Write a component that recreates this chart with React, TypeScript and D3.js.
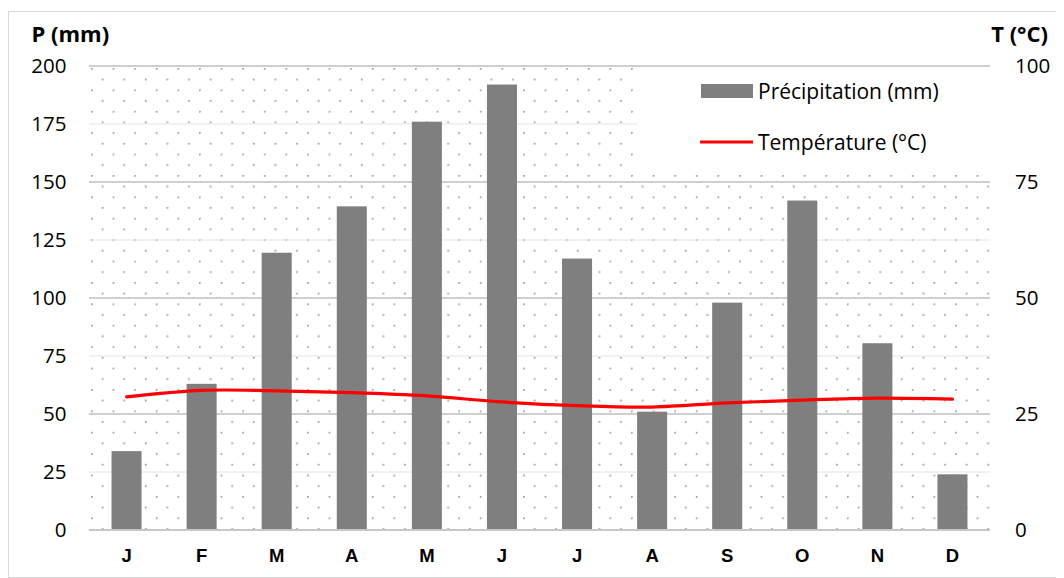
import * as d3 from 'd3';

const months = ['J', 'F', 'M', 'A', 'M', 'J', 'J', 'A', 'S', 'O', 'N', 'D'];
const precip = [34, 63, 119.5, 139.5, 176, 192, 117, 51, 98, 142, 80.5, 24];
const temp = [28.7, 30.1, 30, 29.6, 28.9, 27.6, 26.8, 26.5, 27.4, 28, 28.4, 28.2];
const pTicks = [0, 25, 50, 75, 100, 125, 150, 175, 200];
const tTicks = [0, 25, 50, 75, 100];

export default function App() {
    const W = 1056, H = 570;
    const margin = { top: 58, right: 74, bottom: 48, left: 81 };
    const x0 = margin.left, x1 = W - margin.right;
    const y0 = H - margin.bottom, y1 = margin.top;

    const x = d3.scaleBand<number>().domain(d3.range(12)).range([x0, x1]).paddingInner(0.6).paddingOuter(0.3);
    const yP = d3.scaleLinear().domain([0, 200]).range([y0, y1]);
    const yT = d3.scaleLinear().domain([0, 100]).range([y0, y1]);

    const line = d3.line<number>()
        .x((_, i) => (x(i) as number) + x.bandwidth() / 2)
        .y((d) => yT(d))
        .curve(d3.curveCatmullRom.alpha(0.5));

    const font = "'Open Sans', 'Noto Sans', sans-serif";

    return (
        <svg width={W} height={H} style={{ display: 'block' }}>
            <defs>
                <pattern id="dots" x={x0 + 2} y={y1 + 2} width={21.6} height={21.4} patternUnits="userSpaceOnUse">
                    <circle cx={0.8} cy={0.8} r={1.1} fill="#a6a6a6" />
                    <circle cx={11.6} cy={11.5} r={1.1} fill="#a6a6a6" />
                </pattern>
            </defs>
            <rect x={0.5} y={3.5} width={W} height={H - 4} fill="#fff" stroke="#d9d9d9" />
            <rect x={x0} y={y1} width={x1 - x0} height={y0 - y1} fill="url(#dots)" />

            {pTicks.map((t) => (
                <line key={t} x1={x0} x2={x1} y1={yP(t)} y2={yP(t)}
                    stroke={t % 50 === 0 ? '#bfbfbf' : '#e4e4e4'} strokeWidth={t % 50 === 0 ? 1.5 : 1} />
            ))}

            {/* legend box hides the pattern */}
            <rect x={629} y={y1 + 1.5} width={x1 - 629} height={104} fill="#fff" />

            {precip.map((v, i) => (
                <rect key={i} x={x(i)} y={yP(v)} width={x.bandwidth()} height={y0 - yP(v)} fill="#7f7f7f" />
            ))}

            <line x1={x0} x2={x1} y1={y0} y2={y0} stroke="#c8c8c8" strokeWidth={2} />

            <path d={line(temp) ?? ''} fill="none" stroke="#ff0000" strokeWidth={3.2} strokeLinecap="round" />

            {pTicks.map((t) => (
                <text key={t} x={58.5} y={yP(t)} dy="0.36em" textAnchor="end" fontFamily={font} fontSize={20.5} fill="#000">{t}</text>
            ))}
            {tTicks.map((t) => (
                <text key={t} x={1007} y={yT(t)} dy="0.36em" textAnchor="start" fontFamily={font} fontSize={20.5} fill="#000">{t}</text>
            ))}
            {months.map((m, i) => (
                <text key={i} x={(x(i) as number) + x.bandwidth() / 2} y={554} textAnchor="middle"
                    fontFamily="'Liberation Sans', Arial, sans-serif" fontWeight="bold" fontSize={18.5} fill="#000">{m}</text>
            ))}

            <text x={23.5} y={34} fontFamily={font} fontWeight="bold" fontSize={22} fill="#000">P (mm)</text>
            <text x={1040} y={34} textAnchor="end" fontFamily={font} fontWeight="bold" fontSize={22} fill="#000">T (°C)</text>

            <rect x={693} y={76} width={52} height={14} fill="#7f7f7f" />
            <text x={750} y={83} dy="0.36em" fontFamily={font} fontSize={21} fill="#000">Précipitation (mm)</text>
            <line x1={692} x2={745} y1={134} y2={134} stroke="#ff0000" strokeWidth={3} />
            <text x={750} y={134} dy="0.36em" fontFamily={font} fontSize={21} fill="#000">Température (°C)</text>
        </svg>
    );
}
